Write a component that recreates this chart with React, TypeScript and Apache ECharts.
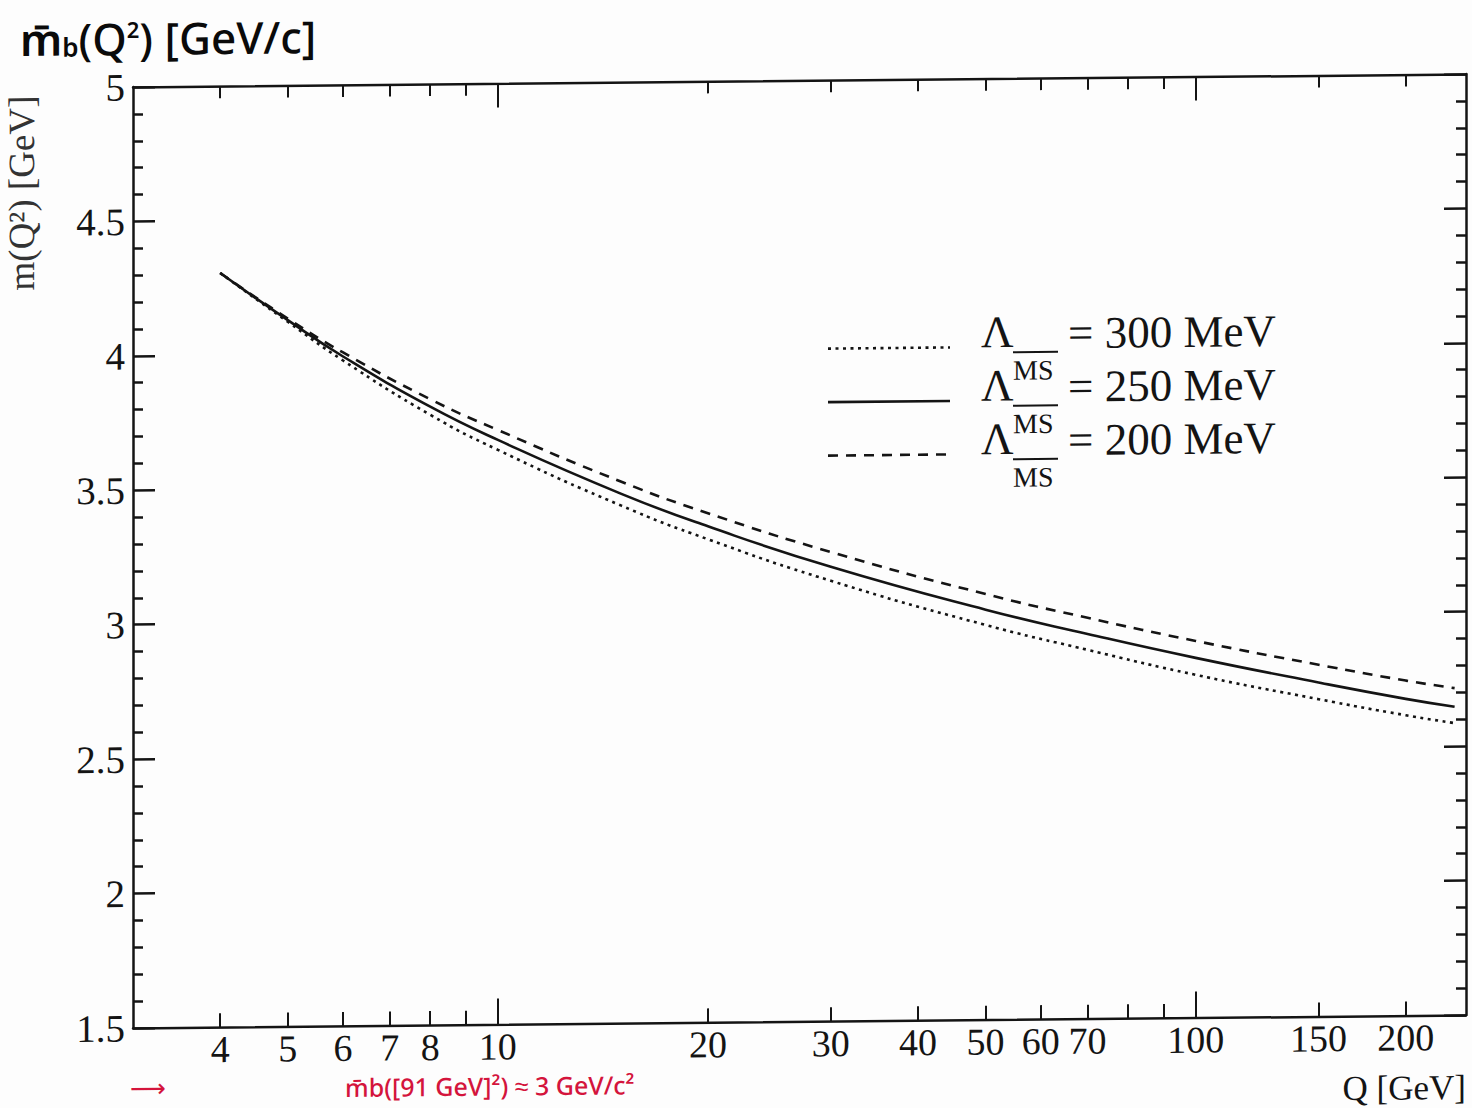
import React, { useEffect, useRef } from "react";
import * as echarts from "echarts";

// Q in GeV
const Q = [4, 5, 6, 8, 10, 15, 20, 30, 50, 70, 100, 150, 200, 235];
// running mass m(Q^2) [GeV] for three Lambda_MSbar values
const mLambda300 = [4.305, 4.121, 3.975, 3.77, 3.637, 3.426, 3.297, 3.138, 2.968, 2.872, 2.775, 2.68, 2.617, 2.586];
const mLambda250 = [4.305, 4.127, 3.99, 3.8, 3.674, 3.47, 3.345, 3.19, 3.025, 2.931, 2.838, 2.742, 2.678, 2.647];
const mLambda200 = [4.305, 4.133, 4.005, 3.828, 3.711, 3.515, 3.394, 3.245, 3.083, 2.991, 2.901, 2.808, 2.746, 2.716];

const xShortTicks = [4, 5, 6, 7, 8, 9, 20, 30, 40, 50, 60, 70, 80, 90, 150, 200];
const xLongTicks = [10, 100];
const xLabels = [4, 5, 6, 7, 8, 10, 20, 30, 40, 50, 60, 70, 100, 150, 200];
const legendValues = ["= 300 MeV", "= 250 MeV", "= 200 MeV"];
const legendDash: (number[] | null)[] = [[3, 4.5], null, [10, 8]];

const SERIF = '"Liberation Serif", "Times New Roman", serif';
const INK = "#141414";
const RED = "#d4143c";
// the scan is slightly sheared; compensate positions of free-standing texts
const SKEW = 0.0098;
const sy = (x: number, y: number) => y + SKEW * (x - 133);
const CHART_H = 1130;

export default function App() {
  const ref = useRef<HTMLDivElement>(null);
  useEffect(() => {
    if (!ref.current) return;
    const chart = echarts.init(ref.current, null, { renderer: "svg" });
    const xBase = {
      type: "log",
      logBase: 10,
      min: 3,
      max: 244,
      gridIndex: 0,
      splitLine: { show: false },
      minorTick: { show: false },
      minorSplitLine: { show: false },
    };
    const lineAxis = { show: true, onZero: false, lineStyle: { color: INK, width: 2.5 } };
    const mk = (vals: number[]) => Q.map((q, i) => [q, vals[i]]);
    const option: any = {
      animation: false,
      backgroundColor: "#fdfdfd",
      grid: { left: 133, right: 6, top: 87, bottom: CHART_H - 1028, containLabel: false },
      xAxis: [
        {
          ...xBase,
          position: "bottom",
          axisLine: lineAxis,
          axisTick: { show: true, inside: true, length: 14, lineStyle: { color: INK, width: 2 }, customValues: xShortTicks },
          axisLabel: {
            show: true,
            customValues: xLabels,
            fontFamily: SERIF,
            fontSize: 38,
            color: INK,
            margin: 3,
            formatter: (v: number) => String(Math.round(v)),
          },
        },
        {
          ...xBase,
          position: "bottom",
          axisLine: { show: false, onZero: false },
          axisTick: { show: true, inside: true, length: 26, lineStyle: { color: INK, width: 2 }, customValues: xLongTicks },
          axisLabel: { show: false },
        },
        {
          ...xBase,
          position: "top",
          axisLine: lineAxis,
          axisTick: { show: true, inside: true, length: 12, lineStyle: { color: INK, width: 2 }, customValues: xShortTicks },
          axisLabel: { show: false },
        },
        {
          ...xBase,
          position: "top",
          axisLine: { show: false, onZero: false },
          axisTick: { show: true, inside: true, length: 24, lineStyle: { color: INK, width: 2 }, customValues: xLongTicks },
          axisLabel: { show: false },
        },
      ],
      yAxis: [
        {
          type: "value",
          min: 1.5,
          max: 5,
          interval: 0.5,
          position: "left",
          axisLine: lineAxis,
          axisTick: { show: true, inside: true, length: 22, lineStyle: { color: INK, width: 2.5 } },
          minorTick: { show: true, splitNumber: 5, length: 10, lineStyle: { color: INK, width: 2.5 } },
          axisLabel: { show: true, fontFamily: SERIF, fontSize: 39, color: INK, margin: 8, formatter: (v: number) => String(v) },
          splitLine: { show: false },
        },
        {
          type: "value",
          min: 1.5,
          max: 5,
          interval: 0.5,
          position: "right",
          axisLine: lineAxis,
          axisTick: { show: true, inside: true, length: 22, lineStyle: { color: INK, width: 2.5 } },
          minorTick: { show: true, splitNumber: 5, length: 10, lineStyle: { color: INK, width: 2.5 } },
          axisLabel: { show: false },
          splitLine: { show: false },
        },
      ],
      series: [
        {
          name: "Λ = 300 MeV",
          type: "line",
          data: mk(mLambda300),
          smooth: 0.5,
          symbol: "none",
          lineStyle: { color: INK, width: 2.6, type: [3, 4.5] },
        },
        {
          name: "Λ = 250 MeV",
          type: "line",
          data: mk(mLambda250),
          smooth: 0.5,
          symbol: "none",
          lineStyle: { color: INK, width: 2.6, type: "solid" },
        },
        {
          name: "Λ = 200 MeV",
          type: "line",
          data: mk(mLambda200),
          smooth: 0.5,
          symbol: "none",
          lineStyle: { color: INK, width: 2.6, type: [10, 8] },
        },
      ],
      graphic: [
        // legend
        ...legendValues.flatMap((txt, i) => {
          const yl = 348 + i * 53.5;
          const yt = 332 + i * 53.5;
          const dash = legendDash[i];
          return [
            {
              type: "line",
              shape: { x1: 828, y1: sy(890, yl), x2: 950, y2: sy(890, yl) },
              style: { stroke: INK, lineWidth: 2.6, lineDash: dash ? dash : undefined },
            },
            {
              type: "text",
              x: 981,
              y: sy(1000, yt),
              style: { text: "Λ", font: `45px ${SERIF}`, fill: INK, verticalAlign: "middle" },
            },
            {
              type: "line",
              shape: { x1: 1013, y1: sy(1035, yt + 20), x2: 1058, y2: sy(1035, yt + 20) },
              style: { stroke: INK, lineWidth: 2 },
            },
            {
              type: "text",
              x: 1013,
              y: sy(1035, yt + 38),
              style: { text: "MS", font: `28px ${SERIF}`, fill: INK, verticalAlign: "middle" },
            },
            {
              type: "text",
              x: 1068,
              y: sy(1170, yt),
              style: { text: txt, font: `45px ${SERIF}`, fill: INK, verticalAlign: "middle" },
            },
          ];
        }),
        // printed y-axis title
        {
          type: "text",
          x: 22,
          y: 192,
          rotation: Math.PI / 2,
          style: {
            text: "m(Q²) [GeV]",
            font: `37px ${SERIF}`,
            fill: "#333",
            align: "center",
            verticalAlign: "middle",
          },
        },
        // printed x-axis title
        {
          type: "text",
          x: 1466,
          y: sy(1400, 1088),
          style: { text: "Q [GeV]", font: `35px ${SERIF}`, fill: INK, align: "right", verticalAlign: "middle" },
        },
        // handwritten annotation (top)
        {
          type: "text",
          x: 20,
          y: 38,
          style: {
            text: "{m|m̄}{s|b}{t|(Q}{p|2}{t|) [GeV/c]}",
            verticalAlign: "middle",
            rich: {
              m: { font: `600 44px "Noto Sans", sans-serif`, fill: "#0a0a0a" },
              s: { font: `600 26px "Noto Sans", sans-serif`, fill: "#0a0a0a", padding: [16, 0, 0, 0] },
              t: { font: `500 44px "Noto Sans", sans-serif`, fill: "#0a0a0a" },
              p: { font: `600 22px "Noto Sans", sans-serif`, fill: "#0a0a0a", padding: [0, 0, 18, 0] },
            },
          },
        },
        // handwritten red annotation (bottom)
        {
          type: "text",
          x: 130,
          y: sy(150, 1087),
          style: { text: "⟶", font: `500 25px "Noto Sans", sans-serif`, fill: RED, verticalAlign: "middle" },
        },
        {
          type: "text",
          x: 345,
          y: sy(345, 1087),
          style: {
            text: "m̄b([91 GeV]²) ≈ 3 GeV/c²",
            font: `500 25px "Noto Sans", sans-serif`,
            fill: RED,
            verticalAlign: "middle",
          },
        },
      ],
    };
    chart.setOption(option);
    return () => chart.dispose();
  }, []);
  return (
    <div style={{ position: "absolute", left: 0, top: 0, width: 1472, height: 1108, overflow: "hidden", background: "#fdfdfd" }}>
      <div
        ref={ref}
        style={{
          position: "absolute",
          left: 0,
          top: 0,
          width: 1472,
          height: CHART_H,
          transform: "skewY(-0.56deg)",
          transformOrigin: "133px 0px",
        }}
      />
    </div>
  );
}
